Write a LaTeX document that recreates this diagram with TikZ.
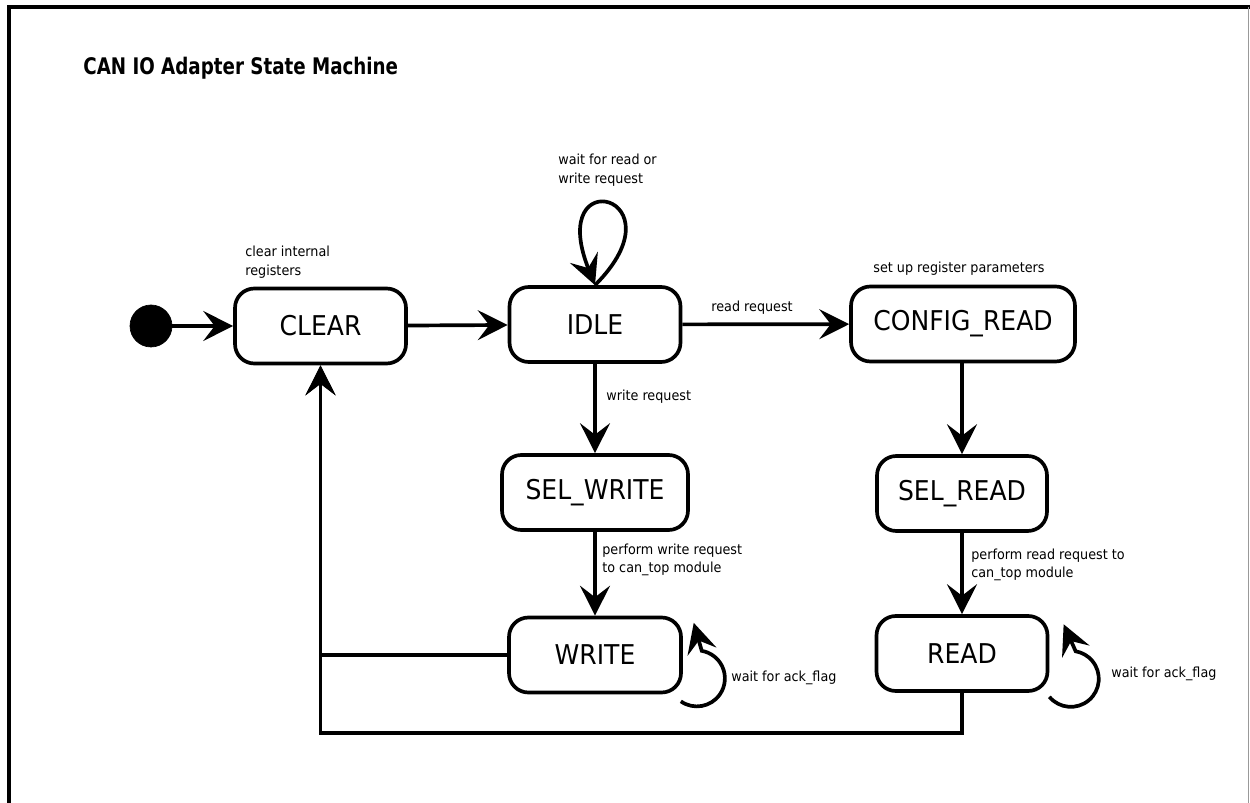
\documentclass[tikz,border=0pt]{standalone}
\usepackage{fontspec}
\setmainfont{DejaVu Sans}[FakeStretch=0.92]
\newfontfamily\titlefont{DejaVu Sans}[FakeStretch=0.8]
\usetikzlibrary{arrows.meta,calc,positioning}

\begin{document}
\begin{tikzpicture}
[x=0.02cm,y=0.02cm,
state/.style = {draw, line width=2.1pt, rounded corners=11pt, minimum height=1.5cm, inner sep=0pt, font=\fontsize{15.5}{18}\selectfont},
point/.style = {draw, circle, fill = black, minimum size=0.84cm, inner sep=0pt},
note/.style = {inner sep=0pt, anchor=west, align=left, font=\fontsize{7.9}{10.6}\selectfont},
trans/.style = {line width=2.1pt, -{Stealth[length=17pt,width=17pt,inset=6.5pt]}},]
\useasboundingbox (0,0) rectangle (1250,-803);
% frame
\draw[line width=2.6pt] (9,-803) -- (9,-7) -- (1250,-7);
\draw[gray!80, line width=0.8pt] (1248.5,-7) -- (1248.5,-803);
\node[anchor=base west, inner sep=0pt, font=\titlefont\bfseries\fontsize{13}{15}\selectfont] (title) at (83,-75) {CAN IO Adapter State Machine};

% states
\node (start) at (151,-326)[point] {};
\node (CLEAR) at (320.5,-326)[state, minimum width=3.42cm] {CLEAR};
\node (IDLE) at (595,-324.5)[state, minimum width=3.42cm] {IDLE};
\node (CONFIG) at (963,-324)[state, minimum width=4.48cm] {CONFIG\_READ};
\node (SELW) at (595,-492.5)[state, minimum width=3.72cm] {SEL\_WRITE};
\node (WRITE) at (595,-655)[state, minimum width=3.44cm] {WRITE};
\node (SELR) at (962,-493.5)[state, minimum width=3.4cm] {SEL\_READ};
\node (READ) at (962,-653.5)[state, minimum width=3.42cm] {READ};

% notes
\node (n1) at (245,-262)[note] {clear internal\\registers};
\node (n2) at (558,-170)[note] {wait for read or\\write request};
\node (n3) at (711,-308)[note] {read request};
\node (n4) at (873,-269)[note] {set up register parameters};
\node (n5) at (606,-397)[note] {write request};
\node (n6) at (602,-560)[note] {perform write request\\to can\_top module};
\node (n7) at (731,-678)[note] {wait for ack\_flag};
\node (n8) at (971,-565)[note] {perform read request to\\can\_top module};
\node (n9) at (1111,-674)[note] {wait for ack\_flag};

% transitions
\draw[trans] (start) -- (CLEAR);
\draw[trans] (CLEAR) -- (IDLE);
\draw[trans] (IDLE) -- (CONFIG);
\draw[trans] (IDLE) -- (SELW);
\draw[trans] (CONFIG.south -| SELR) -- (SELR);
\draw[trans] (SELW) -- (WRITE);
\draw[trans] (SELR) -- (READ);
\draw[trans] (WRITE.west) -| (CLEAR.south);
\draw[trans] (READ.south) -- ++(0,-40) -| (CLEAR.south);
\draw[trans] (IDLE.north) .. controls +(90,90) and +(-50,125) .. (IDLE.north);
\draw[trans] ($(WRITE.south east)+(-2,-7)$) arc[start angle=-125, end angle=80, radius=28] -- ++(-8,28);
\draw[trans] ($(READ.south east)+(0,-4)$) arc[start angle=-140, end angle=80, radius=28] -- ++(-12,27);
\end{tikzpicture}
\end{document}
